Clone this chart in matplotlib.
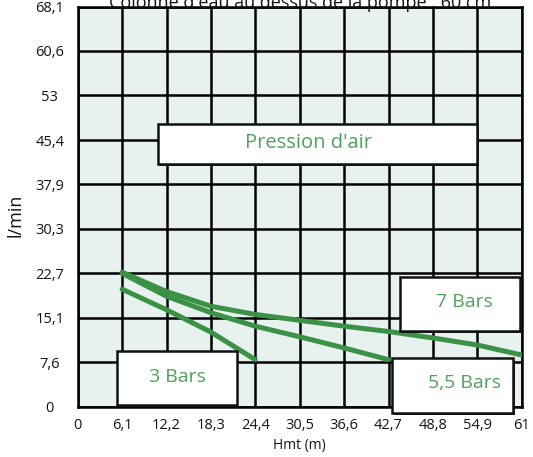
'''Pump curves: flow (l/min) versus head (Hmt) for three air pressures.
'''
from matplotlib import pyplot as plt
from matplotlib.patches import Rectangle

# ==============================
# DATA
hmt_ticks = [0, 6.1, 12.2, 18.3, 24.4, 30.5, 36.6, 42.7, 48.8, 54.9, 61]
hmt_labels = ['0', '6,1', '12,2', '18,3', '24,4', '30,5', '36,6', '42,7', '48,8', '54,9', '61']
flow_ticks = [0, 7.6, 15.1, 22.7, 30.3, 37.9, 45.4, 53, 60.6, 68.1]
flow_labels = ['0', '7,6', '15,1', '22,7', '30,3', '37,9', '45,4', '53', '60,6', '68,1']

hmt_3_bars = [6.1, 12.2, 18.3, 24.4]
flow_3_bars = [20.0, 16.5, 12.7, 8.0]

hmt_55_bars = [6.1, 12.2, 18.3, 24.4, 30.5, 36.6, 42.7]
flow_55_bars = [22.7, 18.8, 16.0, 13.7, 11.9, 10.0, 8.0]

hmt_7_bars = [6.1, 12.2, 18.3, 24.4, 30.5, 36.6, 42.7, 48.8, 54.9, 61]
flow_7_bars = [22.9, 19.6, 17.1, 15.7, 14.7, 13.7, 12.8, 11.7, 10.5, 8.8]

title = "Colonne d'eau au dessus de la pompe : 60 cm"

# ==============================
# STYLE
LINE_GREEN = '#3b9146'
TEXT_GREEN = '#52a05e'
BACKGROUND = '#e7f1ed'
plt.rcParams['font.family'] = ['Open Sans', 'DejaVu Sans']

fig = plt.figure(figsize=(5.33, 4.57), dpi=100)
ax = fig.add_axes([0.1458, 0.1101, 0.833, 0.8753])
ax.set_facecolor(BACKGROUND)

# Curves
for x, y in ((hmt_3_bars, flow_3_bars), (hmt_55_bars, flow_55_bars), (hmt_7_bars, flow_7_bars)):
    ax.plot(x, y, color=LINE_GREEN, lw=3.6, solid_capstyle='round', zorder=3)

# Axes, grid
ax.set_xlim(0, 61)
ax.set_ylim(0, 68.1)
ax.set_xticks(hmt_ticks, hmt_labels)
ax.set_yticks(flow_ticks, flow_labels)
ax.grid(True, color='black', lw=1.8)
ax.set_axisbelow(True)
for spine in ax.spines.values():
    spine.set_color('black')
    spine.set_linewidth(1.8)
ax.tick_params(which='major', length=0, labelsize=10.5, labelcolor='#151515')
ax.tick_params(axis='x', pad=8)
ax.tick_params(axis='y', pad=20)
for label in ax.get_yticklabels():
    label.set_horizontalalignment('center')
# small overshoot of the axes at the origin
ax.set_xticks([0], minor=True)
ax.set_yticks([0], minor=True)
ax.tick_params(which='minor', length=7, width=1.8, color='black', labelbottom=False, labelleft=False)

ax.set_xlabel('Hmt (m)', fontsize=10, color='#151515')
ax.xaxis.set_label_coords(0.5, -0.078)
ax.set_ylabel('l/min', fontsize=13, color='#151515')
ax.yaxis.set_label_coords(-0.119, 0.479)

# Label boxes (axes fraction): x, y, width, height, text x, text y, text, size
boxes = [
    (0.180, 0.606, 0.719, 0.101, 0.519, 0.658, "Pression d'air", 14.5),
    (0.726, 0.190, 0.271, 0.135, 0.870, 0.262, '7 Bars', 14),
    (0.089, 0.004, 0.269, 0.135, 0.225, 0.075, '3 Bars', 14),
    (0.709, -0.017, 0.272, 0.139, 0.872, 0.058, '5,5 Bars', 14),
]
for bx, by, bw, bh, tx, ty, text, size in boxes:
    ax.add_patch(Rectangle((bx + 0.004, by - 0.005), bw, bh, transform=ax.transAxes,
                           facecolor='#222222', edgecolor='none', zorder=4, clip_on=False))
    ax.add_patch(Rectangle((bx, by), bw, bh, transform=ax.transAxes, facecolor='white',
                           edgecolor='#111111', lw=1.8, zorder=5, clip_on=False))
    ax.text(tx, ty, text, transform=ax.transAxes, ha='center', va='center',
            fontsize=size, color=TEXT_GREEN, zorder=6)

# Title, cut off at the top edge as in the source image
fig.text(0.563, 1 - 8 / 457, title, ha='center', va='baseline', fontsize=13, color='#151515')

fig.savefig('out.png', dpi=100)
